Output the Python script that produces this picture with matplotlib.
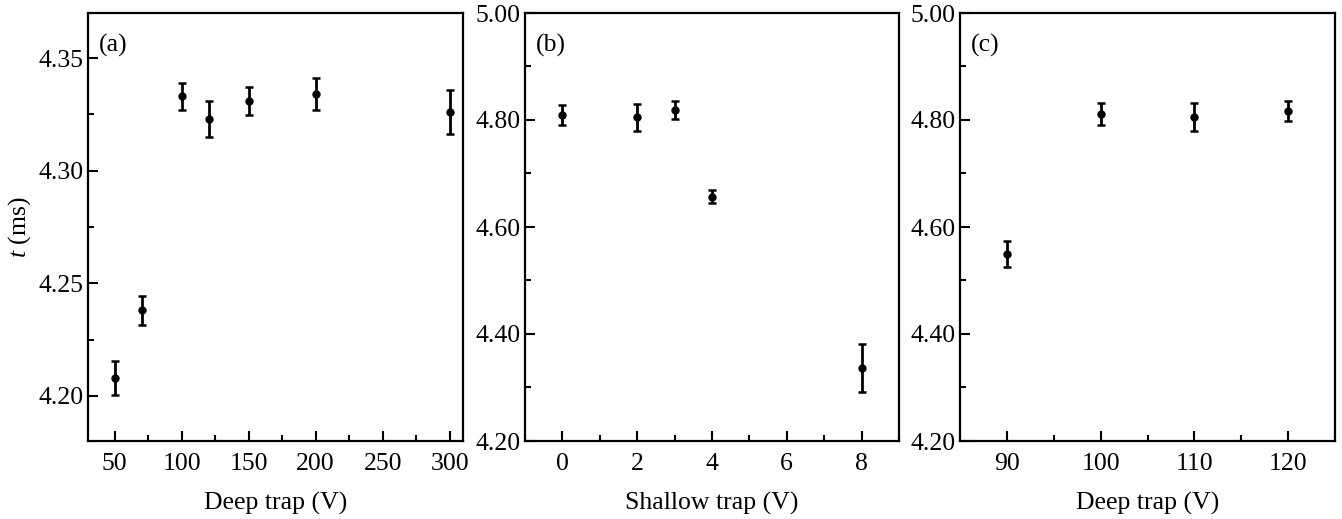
import numpy as np
import matplotlib.pyplot as plt
from matplotlib.ticker import MultipleLocator, FormatStrFormatter

plt.rcParams['font.family'] = 'Liberation Serif'
plt.rcParams['mathtext.fontset'] = 'custom'
plt.rcParams['mathtext.it'] = 'Liberation Serif:italic'
plt.rcParams['mathtext.rm'] = 'Liberation Serif'

# (a) deep trap scan
deep_a = [50, 70, 100, 120, 150, 200, 300]
t_a = [4.208, 4.238, 4.333, 4.323, 4.331, 4.334, 4.326]
err_a = [0.0075, 0.0065, 0.006, 0.008, 0.0063, 0.0072, 0.0097]

# (b) shallow trap scan
shallow_b = [0, 2, 3, 4, 8]
t_b = [4.809, 4.805, 4.819, 4.657, 4.336]
err_b = [0.019, 0.025, 0.017, 0.013, 0.045]

# (c) deep trap scan
deep_c = [90, 100, 110, 120]
t_c = [4.549, 4.811, 4.806, 4.817]
err_c = [0.024, 0.02, 0.026, 0.019]

fig = plt.figure(figsize=(13.42, 5.19), dpi=100)
W, H = 1342, 519
boxes = [(88, 463), (525, 899), (960, 1335)]
top, bottom = 13, 441
axs = [fig.add_axes([l / W, 1 - bottom / H, (r - l) / W, (bottom - top) / H]) for l, r in boxes]

panels = [
    (deep_a, t_a, err_a, (30, 310), (4.18, 4.37), 50, 25, 0.05, 0.025, 'Deep trap (V)', '(a)'),
    (shallow_b, t_b, err_b, (-1, 9), (4.20, 5.00), 2, 1, 0.2, 0.1, 'Shallow trap (V)', '(b)'),
    (deep_c, t_c, err_c, (85, 125), (4.20, 5.00), 10, 5, 0.2, 0.1, 'Deep trap (V)', '(c)'),
]

fs = 18.5
for ax, (x, y, e, xl, yl, xmaj, xmin, ymaj, ymin, xlab, tag) in zip(axs, panels):
    ax.errorbar(x, y, yerr=e, fmt='o', color='k', ms=5, elinewidth=2,
                capsize=3, capthick=1.8)
    ax.set_xlim(*xl)
    ax.set_ylim(*yl)
    ax.xaxis.set_major_locator(MultipleLocator(xmaj))
    ax.xaxis.set_minor_locator(MultipleLocator(xmin))
    ax.yaxis.set_major_locator(MultipleLocator(ymaj))
    ax.yaxis.set_minor_locator(MultipleLocator(ymin))
    ax.yaxis.set_major_formatter(FormatStrFormatter('%.2f'))
    ax.tick_params(which='both', direction='in', top=False, right=False,
                   labelsize=fs, width=1.5)
    ax.tick_params(axis='x', pad=9)
    ax.tick_params(axis='y', pad=3)
    ax.tick_params(which='major', length=7.5)
    ax.tick_params(which='minor', length=4)
    for s in ax.spines.values():
        s.set_linewidth(1.6)
    ax.set_xlabel(xlab, fontsize=fs, labelpad=12)
    ax.text(0.03, 0.925, tag, transform=ax.transAxes, fontsize=fs, va='center')

axs[0].set_ylabel(r'$t$ (ms)', fontsize=fs, labelpad=4)

fig.savefig('out.png', dpi=100)
